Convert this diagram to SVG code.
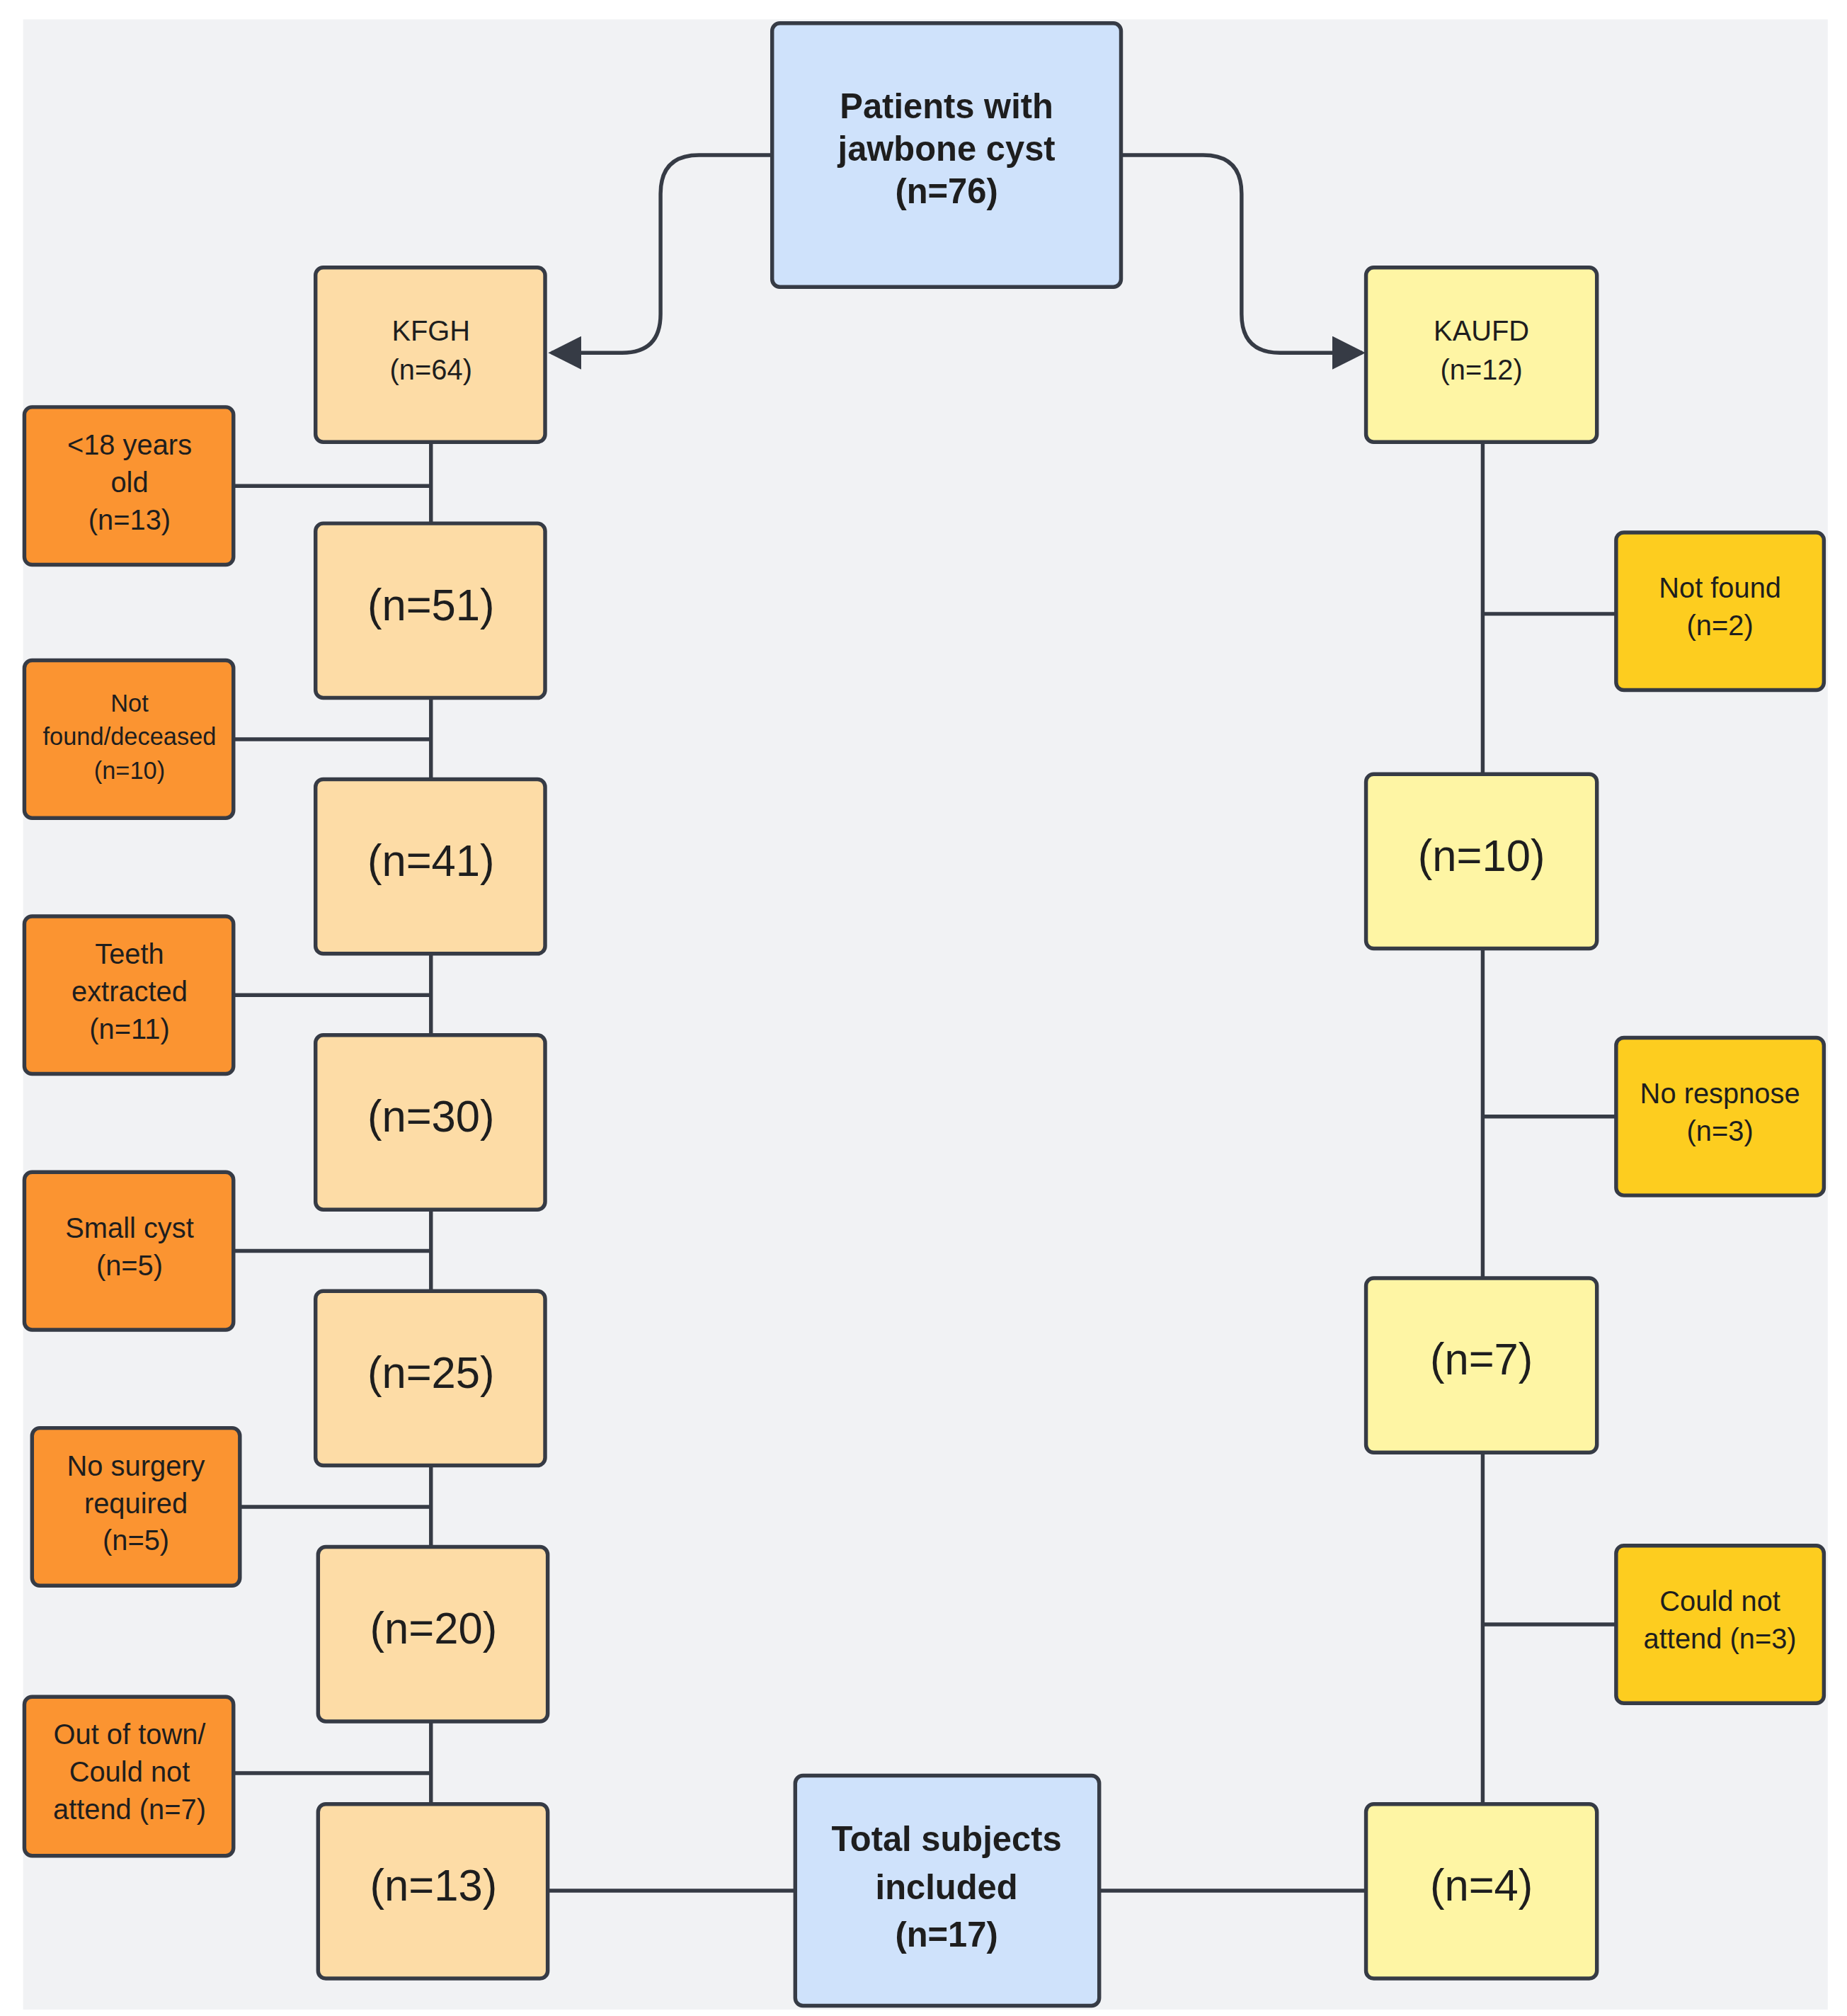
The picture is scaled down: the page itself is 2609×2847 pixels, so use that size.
<svg xmlns="http://www.w3.org/2000/svg" width="2609" height="2847" viewBox="0 0 2609 2847">
<style>
rect.n{stroke:#363b45;stroke-width:3}
.t{font-family:"Liberation Sans",Arial,sans-serif;fill:#1e1e1e;text-anchor:middle;dominant-baseline:central}
.b{font-weight:bold;font-size:27px}
.s{font-size:22px}
.l{font-size:34px}
.c{stroke:#363b45;stroke-width:3;fill:none}
.o{fill:#fb9431}.p{fill:#fddca6}.y{fill:#fef5a4}.g{fill:#fdcd1f}.u{fill:#cfe2fb}
</style>
<defs><marker id="a" viewBox="0 0 10 10" refX="9" refY="5" markerWidth="8" markerHeight="8" markerUnits="userSpaceOnUse" orient="auto"><path d="M0,0L10,5L0,10z" fill="#363b45"/></marker>
<marker id="ar" viewBox="0 0 10 10" refX="9" refY="5" markerWidth="26" markerHeight="26" markerUnits="userSpaceOnUse" orient="auto"><path d="M0,0L10,5L0,10z" fill="#363b45"/></marker></defs>
<rect width="2609" height="2847" fill="#fff"/>
<g transform="scale(1.8118,1.825)">
<rect x="18" y="15" width="1407" height="1540" fill="#f1f2f4"/>
<g id="connectors">
<path class="c" d="M602,120H545Q515,120 515,150V243Q515,273 485,273H430" marker-end="url(#ar)"/>
<path class="c" d="M874,120H938Q968,120 968,150V243Q968,273 998,273H1062" marker-end="url(#ar)"/>
<path class="c" d="M336,342V1396"/>
<path class="c" d="M182,376H336M182,572H336M182,770H336M182,968H336M187,1166H336M182,1372H336"/>
<path class="c" d="M1156,342V1396"/>
<path class="c" d="M1156,475H1260M1156,864H1260M1156,1257H1260"/>
<path class="c" d="M427,1463H620M857,1463H1065"/>
</g>
<g id="top"><rect class="n u" x="602" y="18" width="272" height="204" rx="6"/><text class="t b" x="738" y="82">Patients with</text><text class="t b" x="738" y="115">jawbone cyst</text><text class="t b" x="738" y="148">(n=76)</text></g>
<g id="kfgh"><rect class="n p" x="246" y="207" width="179" height="135" rx="6"/><text class="t s" x="336" y="256">KFGH</text><text class="t s" x="336" y="286">(n=64)</text></g>
<g id="kaufd"><rect class="n y" x="1065" y="207" width="180" height="135" rx="6"/><text class="t s" x="1155" y="256">KAUFD</text><text class="t s" x="1155" y="286">(n=12)</text></g>
<g id="l51"><rect class="n p" x="246" y="405" width="179" height="135" rx="6"/><text class="t l" x="336" y="468">(n=51)</text></g>
<g id="l41"><rect class="n p" x="246" y="603" width="179" height="135" rx="6"/><text class="t l" x="336" y="666">(n=41)</text></g>
<g id="l30"><rect class="n p" x="246" y="801" width="179" height="135" rx="6"/><text class="t l" x="336" y="864">(n=30)</text></g>
<g id="l25"><rect class="n p" x="246" y="999" width="179" height="135" rx="6"/><text class="t l" x="336" y="1062">(n=25)</text></g>
<g id="l20"><rect class="n p" x="248" y="1197" width="179" height="135" rx="6"/><text class="t l" x="338" y="1260">(n=20)</text></g>
<g id="l13"><rect class="n p" x="248" y="1396" width="179" height="135" rx="6"/><text class="t l" x="338" y="1459">(n=13)</text></g>
<g id="o1"><rect class="n o" x="19" y="315" width="163" height="122" rx="6"/><text class="t s" x="101" y="344">&lt;18 years</text><text class="t s" x="101" y="373">old</text><text class="t s" x="101" y="402">(n=13)</text></g>
<g id="o2"><rect class="n o" x="19" y="511" width="163" height="122" rx="6"/><text class="t" font-size="19" x="101" y="544">Not</text><text class="t" font-size="19" x="101" y="570">found/deceased</text><text class="t" font-size="19" x="101" y="596">(n=10)</text></g>
<g id="o3"><rect class="n o" x="19" y="709" width="163" height="122" rx="6"/><text class="t s" x="101" y="738">Teeth</text><text class="t s" x="101" y="767">extracted</text><text class="t s" x="101" y="796">(n=11)</text></g>
<g id="o4"><rect class="n o" x="19" y="907" width="163" height="122" rx="6"/><text class="t s" x="101" y="950">Small cyst</text><text class="t s" x="101" y="979">(n=5)</text></g>
<g id="o5"><rect class="n o" x="25" y="1105" width="162" height="122" rx="6"/><text class="t s" x="106" y="1134">No surgery</text><text class="t s" x="106" y="1163">required</text><text class="t s" x="106" y="1192">(n=5)</text></g>
<g id="o6"><rect class="n o" x="19" y="1313" width="163" height="123" rx="6"/><text class="t s" x="101" y="1342">Out of town/</text><text class="t s" x="101" y="1371">Could not</text><text class="t s" x="101" y="1400">attend (n=7)</text></g>
<g id="r10"><rect class="n y" x="1065" y="599" width="180" height="135" rx="6"/><text class="t l" x="1155" y="662">(n=10)</text></g>
<g id="r7"><rect class="n y" x="1065" y="989" width="180" height="135" rx="6"/><text class="t l" x="1155" y="1052">(n=7)</text></g>
<g id="r4"><rect class="n y" x="1065" y="1396" width="180" height="135" rx="6"/><text class="t l" x="1155" y="1459">(n=4)</text></g>
<g id="g1"><rect class="n g" x="1260" y="412" width="162" height="122" rx="6"/><text class="t s" x="1341" y="455">Not found</text><text class="t s" x="1341" y="484">(n=2)</text></g>
<g id="g2"><rect class="n g" x="1260" y="803" width="162" height="122" rx="6"/><text class="t s" x="1341" y="846">No respnose</text><text class="t s" x="1341" y="875">(n=3)</text></g>
<g id="g3"><rect class="n g" x="1260" y="1196" width="162" height="122" rx="6"/><text class="t s" x="1341" y="1239">Could not</text><text class="t s" x="1341" y="1268">attend (n=3)</text></g>
<g id="total"><rect class="n u" x="620" y="1374" width="237" height="178" rx="6"/><text class="t b" font-size="29" x="738" y="1423">Total subjects</text><text class="t b" font-size="29" x="738" y="1460">included</text><text class="t b" font-size="29" x="738" y="1497">(n=17)</text></g>
</g>
</svg>
